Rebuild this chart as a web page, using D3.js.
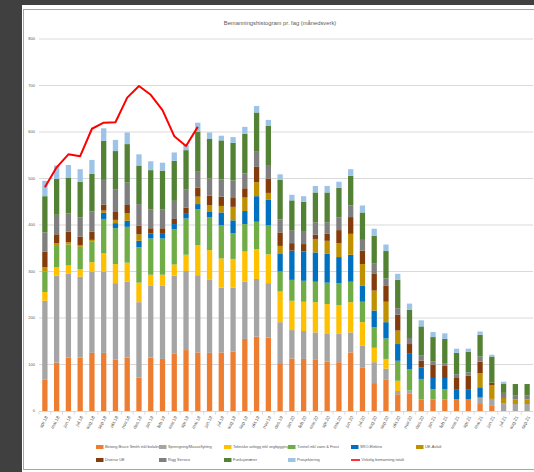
<!DOCTYPE html>
<html><head><meta charset="utf-8">
<script src="https://cdn.jsdelivr.net/npm/d3@7"></script>
<style>
html,body{margin:0;padding:0;background:#404040;}
svg{display:block;}
text{font-family:"Liberation Sans",Arial,sans-serif;fill:#595959;}
</style></head><body>
<svg id="c" width="534" height="472"></svg>
<script>
const months = ["apr.18","mai.18","jun.18","jul.18","aug.18","sep.18","okt.18","nov.18","des.18","jan.19","feb.19","mar.19","apr.19","mai.19","jun.19","jul.19","aug.19","sep.19","okt.19","nov.19","des.19","jan.20","feb.20","mar.20","apr.20","mai.20","jun.20","jul.20","aug.20","sep.20","okt.20","nov.20","des.20","jan.21","feb.21","mar.21","apr.21","mai.21","jun.21","jul.21","aug.21","sep.21"];

const seriesNames = ["Betong Bruce Smith inkl bolaler","Sprengning/Masseflytting","Tekniske anlegg inkl vegbygging","Tunnel inkl vann & Frost","SRO-Elektro","UE-Asfalt","Diverse UE","Rigg Service","Funksjonærer","Prosjektering"];
const lineName = "Virkelig bemanning totalt";
const colors = ["#ED7D31","#A5A5A5","#FFC000","#70AD47","#0070C0","#BF9000","#843C0C","#7F7F7F","#548235","#9DC3E6"];

const betong   = [68,104,115,115,125,125,111,115,72,115,112,123,131,126,125,126,128,155,160,158,103,113,112,110,106,105,126,94,60,67,36,37,25,25,25,25,25,15,11,0,0,0];
const spreng   = [169,187,180,174,175,175,164,163,162,154,157,168,170,166,157,139,137,123,124,117,88,61,60,59,61,61,43,46,45,24,7,7,0,0,0,0,0,14,15,17,15,15];
const teknisk  = [19,18,18,16,20,39,41,41,42,24,24,24,35,65,64,63,62,65,64,62,66,63,63,65,63,62,65,51,31,21,22,0,0,0,0,0,0,0,0,0,0,0];
const tunnel   = [44,46,45,48,44,74,77,77,76,78,78,76,78,77,71,72,55,59,59,62,43,45,45,44,46,47,44,44,44,44,43,46,44,22,22,0,0,0,0,0,0,0];
const sro      = [0,0,0,0,0,13,11,13,14,11,10,11,10,11,11,27,28,28,55,55,39,63,63,63,62,56,58,35,36,35,36,33,25,24,24,22,22,22,0,0,0,0];
const ueAsfalt = [9,6,5,3,4,5,7,16,14,0,0,0,0,16,15,14,29,29,30,15,16,0,0,29,28,30,45,46,43,44,29,0,0,0,0,0,0,30,30,11,10,10];
const diverse  = [34,19,23,19,18,13,17,18,19,11,12,11,13,19,20,20,19,20,33,31,29,16,16,9,15,28,36,29,37,34,34,21,14,29,26,24,29,25,5,0,0,0];
const rigg     = [41,42,39,41,43,53,49,48,46,41,40,39,39,36,37,37,38,32,34,29,28,28,28,27,25,27,25,23,22,16,14,13,12,7,6,8,7,11,0,11,9,9];
const funksj   = [78,77,77,77,81,84,82,83,83,84,84,86,85,85,85,84,81,85,83,84,85,64,63,64,64,64,64,59,59,59,61,61,62,52,52,46,44,47,56,20,24,24];
const prosj    = [33,29,27,27,30,27,24,25,24,19,17,18,11,19,14,10,12,15,14,13,12,12,12,14,14,13,14,15,15,14,13,13,13,11,12,9,7,7,4,4,0,0];
const actual   = [481,524,552,548,607,620,621,674,699,680,647,591,570,611];

const yTicks = [0,100,200,300,400,500,600,700,800];

const seriesVals = [betong,spreng,teknisk,tunnel,sro,ueAsfalt,diverse,rigg,funksj,prosj];
const rows = months.map((m,i)=>{const r={month:m}; seriesNames.forEach((n,k)=>r[n]=seriesVals[k][i]); return r;});

const svg = d3.select("#c");
svg.append("rect").attr("x",22).attr("y",5).attr("width",512).attr("height",467).attr("fill","#fff");
svg.append("rect").attr("x",23.5).attr("y",9.5).attr("width",520).attr("height",460).attr("fill","none").attr("stroke","#A6A6A6").attr("stroke-width",1);

const x = d3.scaleBand().domain(months).range([39,533]).paddingInner(0.55).paddingOuter(0.275);
const y = d3.scaleLinear().domain([0,800]).range([411,39]);

// title
svg.append("text").attr("x",280).attr("y",25).attr("text-anchor","middle").attr("font-size",5.8).text("Bemanningshistogram pr. fag (månedsverk)");

// grid
svg.append("g").selectAll("line").data(yTicks.filter(d=>d>0)).join("line")
  .attr("x1",39).attr("x2",533).attr("y1",d=>y(d)).attr("y2",d=>y(d))
  .attr("stroke","#D9D9D9").attr("stroke-width",1);

// y labels
svg.append("g").selectAll("text").data(yTicks).join("text")
  .attr("x",35).attr("y",d=>y(d)+1.4).attr("text-anchor","end").attr("font-size",4).text(d=>d);

// bars
const stack = d3.stack().keys(seriesNames)(rows);
svg.append("g").selectAll("g").data(stack).join("g").attr("fill",(d,i)=>colors[i])
  .selectAll("rect").data(d=>d).join("rect")
  .attr("x",d=>x(d.data.month)).attr("width",x.bandwidth())
  .attr("y",d=>y(d[1])).attr("height",d=>Math.max(0,y(d[0])-y(d[1])));

// x axis
svg.append("line").attr("x1",39).attr("x2",533).attr("y1",411.5).attr("y2",411.5).attr("stroke","#D9D9D9");
const step = x.step();
svg.append("g").selectAll("line").data(months).join("line")
  .attr("x1",d=>x(d)-x.bandwidth()*0.5*0+ -(step-x.bandwidth())/2).attr("x2",d=>x(d)-(step-x.bandwidth())/2)
  .attr("y1",411.5).attr("y2",414.5).attr("stroke","#D9D9D9");
svg.append("g").selectAll("text").data(months).join("text")
  .attr("transform",d=>`translate(${x(d)+x.bandwidth()/2+3},${417}) rotate(-62)`)
  .attr("text-anchor","end").attr("font-size",4.6).text(d=>d);

// actual line
const line = d3.line().x((d,i)=>x(months[i])+x.bandwidth()/2).y(d=>y(d));
svg.append("path").datum(actual).attr("d",line).attr("fill","none").attr("stroke","#FF0000").attr("stroke-width",2).attr("stroke-linejoin","round");

// legend
const legCols = [96,159,224,288,351,416];
const legItems = seriesNames.map((n,i)=>({name:n,color:colors[i],type:"rect"})).concat([{name:lineName,color:"#FF0000",type:"line"}]);
const lg = svg.append("g");
legItems.forEach((it,i)=>{
  const row = i<6?0:1; const col = i<6?i:i-6+(i>=9?2:0);
  const cx = row===0?legCols[col]:[96,159,224,288,351][i-6];
  const cy = row===0?447:460;
  if(it.type==="rect") lg.append("rect").attr("x",cx).attr("y",cy-2).attr("width",7.5).attr("height",4).attr("fill",it.color);
  else lg.append("line").attr("x1",cx).attr("x2",cx+9).attr("y1",cy).attr("y2",cy).attr("stroke",it.color).attr("stroke-width",1.6);
  lg.append("text").attr("x",cx+(it.type==="rect"?9:10.5)).attr("y",cy+1.4).attr("font-size",3.9).text(it.name);
});
</script>
</body></html>
